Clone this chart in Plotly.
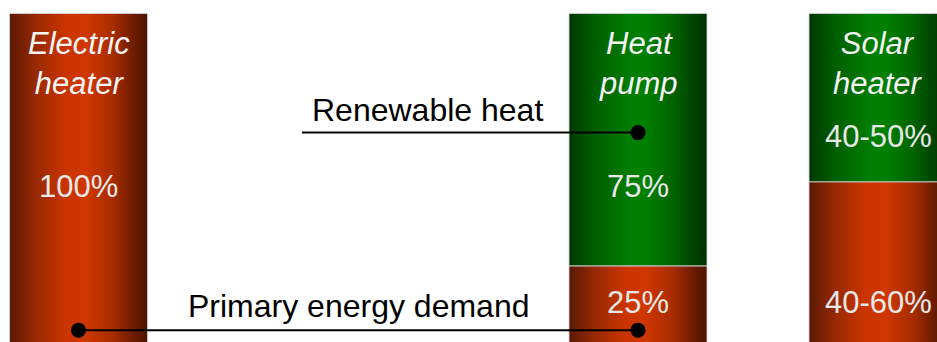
import plotly.graph_objects as go

# --- data -------------------------------------------------------------
technologies = ["Electric heater", "Heat pump", "Solar heater"]
title_lines = ["Electric<br>heater", "Heat<br>pump", "Solar<br>heater"]
primary_share = [100, 25, 50]      # share covered by primary energy (%)
renewable_share = [0, 75, 50]      # share covered by renewable heat (%)
primary_labels = ["100%", "25%", "40-60%"]
renewable_labels = ["", "75%", "40-50%"]

# --- layout constants (x in plot units, y in percent) -----------------
bar_centers = [78.5, 638, 878]
bar_width = 138
primary_label_y = [48.5, 14.0, 14.0]
renewable_label_y = [None, 48.5, 63.4]
title_y = 85.2

RED_SCALE = [[0, "#5a1804"], [0.2, "#9a2a02"], [0.4, "#ca3400"], [0.55, "#d03700"],
             [0.75, "#a82c00"], [0.9, "#6c1c00"], [1, "#4e1300"]]
GREEN_SCALE = [[0, "#003800"], [0.2, "#006000"], [0.45, "#007e00"], [0.55, "#008000"],
               [0.75, "#006400"], [0.9, "#004400"], [1, "#003000"]]

FONT = "Liberation Sans, Arial"

fig = go.Figure()


def add_segment(xc, y0, y1, scale):
    x0, x1 = xc - bar_width / 2, xc + bar_width / 2
    fig.add_trace(go.Scatter(
        x=[x0, x1, x1, x0, x0], y=[y0, y0, y1, y1, y0],
        mode="lines", fill="toself",
        fillgradient=dict(type="horizontal", colorscale=scale),
        line=dict(color="rgba(215,215,215,0.8)", width=1),
        hoverinfo="skip", showlegend=False,
    ))


for i, name in enumerate(technologies):
    xc = bar_centers[i]
    p, r = primary_share[i], renewable_share[i]
    if p > 0:
        add_segment(xc, 0, p, RED_SCALE)
    if r > 0:
        add_segment(xc, p, p + r, GREEN_SCALE)

annotations = []
for i in range(len(technologies)):
    xc = bar_centers[i]
    annotations.append(dict(
        x=xc, y=title_y, text=title_lines[i], showarrow=False,
        font=dict(family=FONT, size=31, color="#f4f4f4", style="italic"),
        xanchor="center", yanchor="middle",
    ))
    annotations.append(dict(
        x=xc, y=primary_label_y[i], text=primary_labels[i], showarrow=False,
        font=dict(family=FONT, size=31, color="#e8e8e8"),
        xanchor="center", yanchor="middle",
    ))
    if renewable_labels[i]:
        annotations.append(dict(
            x=xc, y=renewable_label_y[i], text=renewable_labels[i], showarrow=False,
            font=dict(family=FONT, size=31, color="#e8e8e8"),
            xanchor="center", yanchor="middle",
        ))

# leader lines with end dots
renewable_line_y = 64.6
primary_line_y = 5.9
fig.add_trace(go.Scatter(
    x=[302, bar_centers[1]], y=[renewable_line_y, renewable_line_y],
    mode="lines", line=dict(color="black", width=2),
    hoverinfo="skip", showlegend=False,
))
fig.add_trace(go.Scatter(
    x=[bar_centers[1]], y=[renewable_line_y], mode="markers",
    marker=dict(color="black", size=15), hoverinfo="skip", showlegend=False,
))
fig.add_trace(go.Scatter(
    x=[bar_centers[0], bar_centers[1]], y=[primary_line_y, primary_line_y],
    mode="lines+markers", line=dict(color="black", width=2),
    marker=dict(color="black", size=15), hoverinfo="skip", showlegend=False,
))

annotations.append(dict(
    x=427.5, y=71.4, text="Renewable heat", showarrow=False,
    font=dict(family=FONT, size=32, color="black"),
    xanchor="center", yanchor="middle",
))
annotations.append(dict(
    x=358, y=13.0, text="Primary energy demand", showarrow=False,
    font=dict(family=FONT, size=32, color="black"),
    xanchor="center", yanchor="middle",
))

fig.update_layout(
    width=937, height=342,
    margin=dict(l=0, r=0, t=0, b=0),
    paper_bgcolor="white", plot_bgcolor="white",
    xaxis=dict(range=[0, 937], visible=False, fixedrange=True),
    yaxis=dict(range=[2.377, 104.01], visible=False, fixedrange=True),
    annotations=annotations,
    showlegend=False,
)

fig.write_html("out.html")
